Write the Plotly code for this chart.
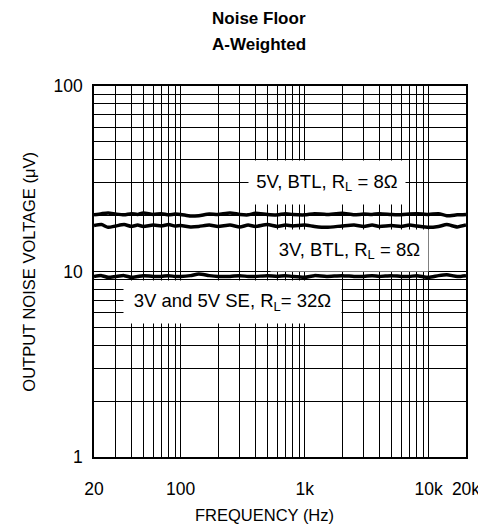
import math
import plotly.graph_objects as go

# Data
freq = [20, 23, 26, 30, 35, 40, 45, 50, 60, 70, 80, 90, 100, 120, 140, 170, 200, 250, 300, 350,
        400, 500, 600, 700, 800, 1000, 1200, 1500, 2000, 2500, 3000, 3500, 4000, 5000, 6000,
        7000, 8000, 10000, 12000, 14000, 17000, 20000]
v5_btl = [20.2, 20.5, 20.7, 20.4, 20.2, 20.5, 20.3, 20.7, 20.3, 20.5, 20.2, 20.4, 20.3, 19.9, 20.0,
          20.4, 20.3, 20.7, 20.3, 20.2, 20.6, 20.3, 20.2, 20.5, 20.3, 20.2, 20.5, 20.3, 20.6, 20.2,
          20.4, 20.3, 20.5, 20.3, 20.2, 20.4, 20.5, 20.3, 20.5, 20.0, 20.2, 20.3]
v3_btl = [17.7, 17.9, 17.3, 17.6, 17.9, 17.5, 17.8, 17.5, 17.8, 17.6, 17.9, 17.6, 17.7, 17.4, 17.5,
          17.8, 17.5, 17.8, 17.4, 17.8, 17.5, 17.9, 17.5, 17.8, 17.6, 17.8, 17.5, 17.3, 17.6, 17.8,
          17.5, 17.8, 17.5, 17.7, 17.5, 17.8, 17.6, 17.3, 17.5, 17.9, 17.4, 17.8]
v_se = [9.4, 9.5, 9.3, 9.4, 9.5, 9.3, 9.4, 9.5, 9.4, 9.4, 9.5, 9.4, 9.4, 9.5, 9.7, 9.5, 9.4, 9.4,
        9.5, 9.4, 9.4, 9.5, 9.4, 9.5, 9.4, 9.3, 9.5, 9.4, 9.5, 9.4, 9.4, 9.5, 9.4, 9.5, 9.4,
        9.4, 9.5, 9.3, 9.5, 9.6, 9.4, 9.5]

x_grid = [20, 30, 40, 50, 60, 70, 80, 90, 100, 200, 300, 400, 500, 600, 700, 800, 900,
          1000, 2000, 3000, 4000, 5000, 6000, 7000, 8000, 9000, 10000, 20000]
x_labels = {20: "20", 100: "100", 1000: "1k", 10000: "10k", 20000: "20k"}
y_grid = [1, 2, 3, 4, 5, 6, 7, 8, 9, 10, 20, 30, 40, 50, 60, 70, 80, 90, 100]
y_labels = {1: "1", 10: "10", 100: "100"}

series = [("5V, BTL", v5_btl), ("3V, BTL", v3_btl), ("3V and 5V SE", v_se)]

# curve labels: (frequency, voltage, text, box width, box height)
labels = [
    (1510, 30.0, "5V, BTL, R<sub>L</sub> = 8Ω", 150, 37),
    (2320, 13.0, "3V, BTL, R<sub>L</sub> = 8Ω", 151, 35),
    (264, 6.85, "3V and 5V SE, R<sub>L</sub>= 32Ω", 211, 36),
]

FONT = "Liberation Sans, Arial, Helvetica, sans-serif"

fig = go.Figure()
for name, vals in series:
    fig.add_trace(go.Scatter(x=freq, y=vals, mode="lines", name=name,
                             line=dict(color="black", width=3.5, shape="spline", smoothing=0.6),
                             showlegend=False, hoverinfo="skip"))

for f, v, txt, w, h in labels:
    fig.add_annotation(x=math.log10(f), y=math.log10(v), xref="x", yref="y", text=txt,
                       showarrow=False, width=w, height=h, align="center", valign="middle",
                       xanchor="center", yanchor="middle",
                       font=dict(family=FONT, size=18.5, color="black"),
                       bgcolor="white", borderpad=3)

# titles as paper annotations
fig.add_annotation(x=0.4435, y=1.183, xref="paper", yref="paper", text="<b>Noise Floor</b>",
                   xanchor="center", yanchor="middle",
                   showarrow=False, font=dict(family=FONT, size=17, color="black"))
fig.add_annotation(x=0.4435, y=1.113, xref="paper", yref="paper", text="<b>A-Weighted</b>",
                   xanchor="center", yanchor="middle",
                   showarrow=False, font=dict(family=FONT, size=17, color="black"))
fig.add_annotation(x=0.458, y=-0.156, xref="paper", yref="paper", text="FREQUENCY (Hz)",
                   xanchor="center", yanchor="middle",
                   showarrow=False, font=dict(family=FONT, size=16.5, color="black"))
fig.add_annotation(x=-0.177, y=0.5, xref="paper", yref="paper", text="OUTPUT NOISE VOLTAGE (μV)",
                   xanchor="center", yanchor="middle",
                   textangle=-90, showarrow=False, font=dict(family=FONT, size=16.5, color="black"))

fig.update_xaxes(type="log", range=[math.log10(20), math.log10(20000)],
                 tickvals=x_grid, ticktext=[x_labels.get(v, "") for v in x_grid],
                 showgrid=True, gridcolor="black", gridwidth=1.2,
                 showline=True, linecolor="black", linewidth=1.6, mirror=True,
                 ticks="", zeroline=False, automargin=False, ticklabelstandoff=15,
                 ticklabeloverflow="allow",
                 tickfont=dict(family=FONT, size=17.5, color="black"))
fig.update_yaxes(type="log", range=[0, 2],
                 tickvals=y_grid, ticktext=[y_labels.get(v, "") for v in y_grid],
                 showgrid=True, gridcolor="black", gridwidth=1.2,
                 showline=True, linecolor="black", linewidth=1.6, mirror=True,
                 ticks="", zeroline=False, automargin=False, ticklabelstandoff=6,
                 ticklabeloverflow="allow",
                 tickfont=dict(family=FONT, size=17.5, color="black"))

# the page body adds an 8px offset, so margins are reduced by 8px
fig.update_layout(
    width=478, height=523,
    margin=dict(l=86, r=20, t=78, b=74, autoexpand=False),
    paper_bgcolor="white", plot_bgcolor="white",
)

fig.write_html("out.html")
